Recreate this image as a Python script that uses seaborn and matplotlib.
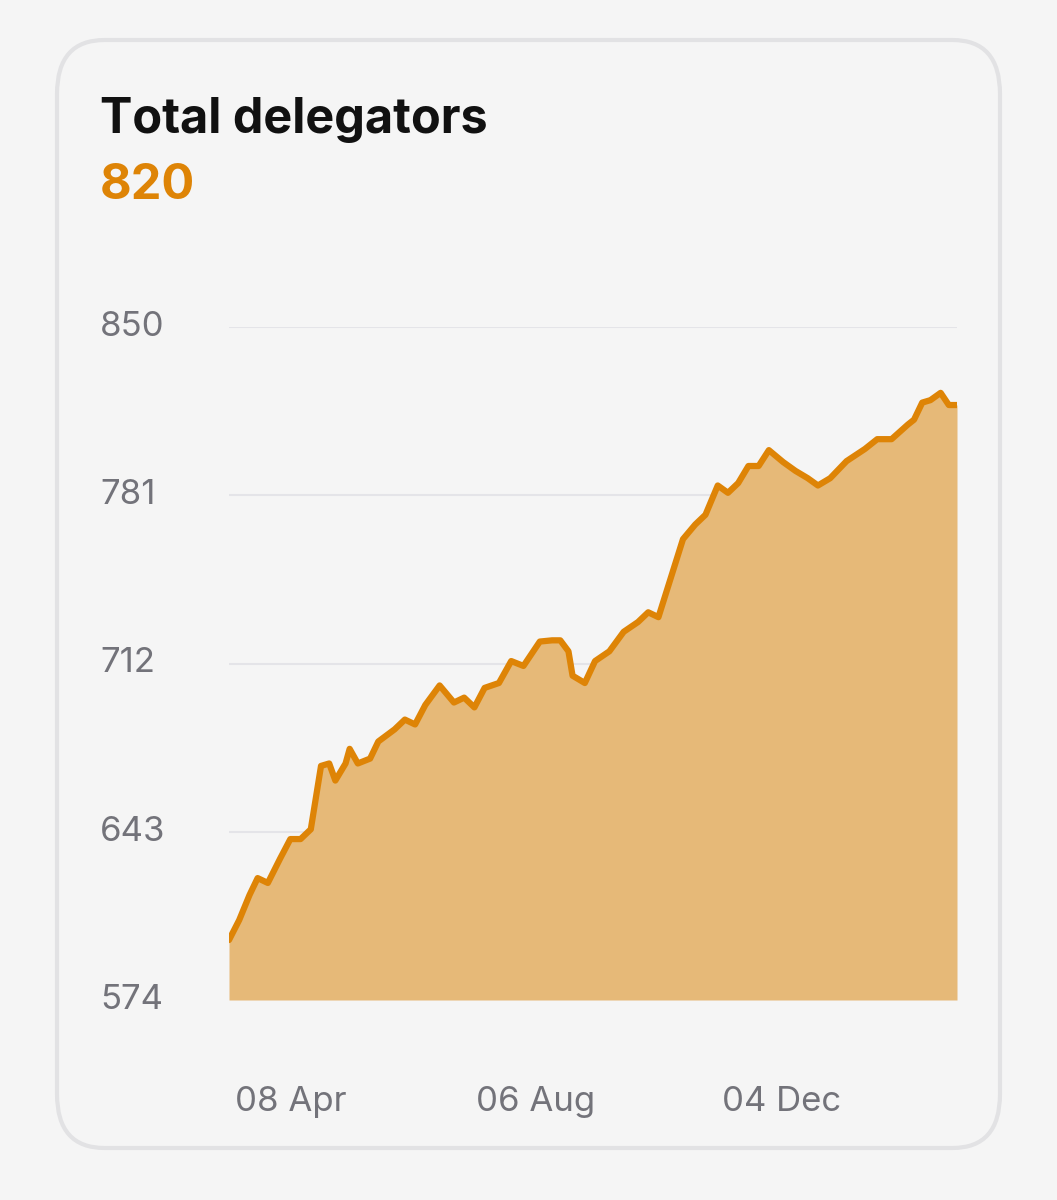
import pandas as pd
import seaborn as sns
import matplotlib.pyplot as plt
from matplotlib.patches import FancyBboxPatch
from matplotlib.transforms import blended_transform_factory

start_date = "2023-03-09"
day_offsets = [0, 5, 10, 14, 19, 25, 30, 35, 40, 45, 49, 52, 57, 59, 63, 69, 73, 81, 86, 91,
               96, 103, 110, 115, 120, 125, 132, 138, 144, 152, 158, 162, 166, 168, 174, 179,
               186, 193, 200, 205, 210, 216, 222, 228, 233, 239, 244, 249, 254, 259, 264, 271,
               277, 283, 288, 294, 302, 311, 317, 324, 332, 335, 339, 343, 348, 352, 356]
delegators = [598.6, 606.8, 617, 624, 622, 632, 640, 640, 644, 670, 671, 664, 671, 677, 671, 673,
              680, 685, 689, 687, 695, 703, 696, 698, 694, 702, 704, 713, 711, 721, 721.5, 721.5,
              717, 707, 704, 713, 717, 725, 729, 733, 731, 747, 763, 769, 773, 785, 782, 786,
              793, 793, 799.5, 794.6, 791, 788, 785, 788, 795, 800, 804, 804, 810, 812, 819,
              820, 823, 818, 818]
y_ticks = [574, 643, 712, 781, 850]
x_tick_dates = ["2023-04-08", "2023-08-06", "2023-12-04"]
x_tick_labels = ["08 Apr", "06 Aug", "04 Dec"]

df = pd.DataFrame({
    "date": pd.to_datetime(start_date) + pd.to_timedelta(day_offsets, unit="D"),
    "value": delegators,
})

sns.set_style("white")
plt.rcParams["font.family"] = ["Inter", "DejaVu Sans"]

bg = "#f5f5f5"
orange = "#de8406"
fig = plt.figure(figsize=(10.57, 12), dpi=100, facecolor=bg)

card = FancyBboxPatch((57 / 1057, 1 - 1148 / 1200), 943 / 1057, 1108 / 1200,
                      boxstyle="round,pad=0,rounding_size=0.045", transform=fig.transFigure,
                      facecolor=bg, edgecolor="#e2e2e4", linewidth=3, zorder=-5)
fig.patches.append(card)

fig.text(100 / 1057, 1 - 120 / 1200, "Total delegators", fontsize=35, fontweight="bold",
         color="#111111", va="center")
fig.text(100 / 1057, 1 - 186 / 1200, "820", fontsize=35, fontweight="bold",
         color=orange, va="center")

ax = fig.add_axes([229 / 1057, 1 - 1000 / 1200, 728 / 1057, 673 / 1200])
ax.set_zorder(3)
ax.set_facecolor("none")
ax.fill_between(df["date"], df["value"], 574, color="#e6b978", linewidth=0)
sns.lineplot(data=df, x="date", y="value", ax=ax, color=orange, linewidth=4.5)

ax.set_xlim(df["date"].iloc[0], df["date"].iloc[-1])
ax.set_ylim(574, 850)
for v in y_ticks[1:]:
    ax.axhline(v, color="#e4e4e8", linewidth=1.5, zorder=0)
ax.set_yticks([])
tr = blended_transform_factory(fig.transFigure, ax.transData)
for v in y_ticks:
    ax.text(100 / 1057, v, str(v), transform=tr, fontsize=25, color="#73737a",
            ha="left", va="center")
ax.set_xticks(pd.to_datetime(x_tick_dates))
ax.set_xticklabels(x_tick_labels, fontsize=25, color="#73737a")
ax.tick_params(axis="x", length=0, pad=62)
ax.set_xlabel("")
ax.set_ylabel("")
sns.despine(ax=ax, left=True, bottom=True)

fig.savefig("out.png", dpi=100, facecolor=bg)
